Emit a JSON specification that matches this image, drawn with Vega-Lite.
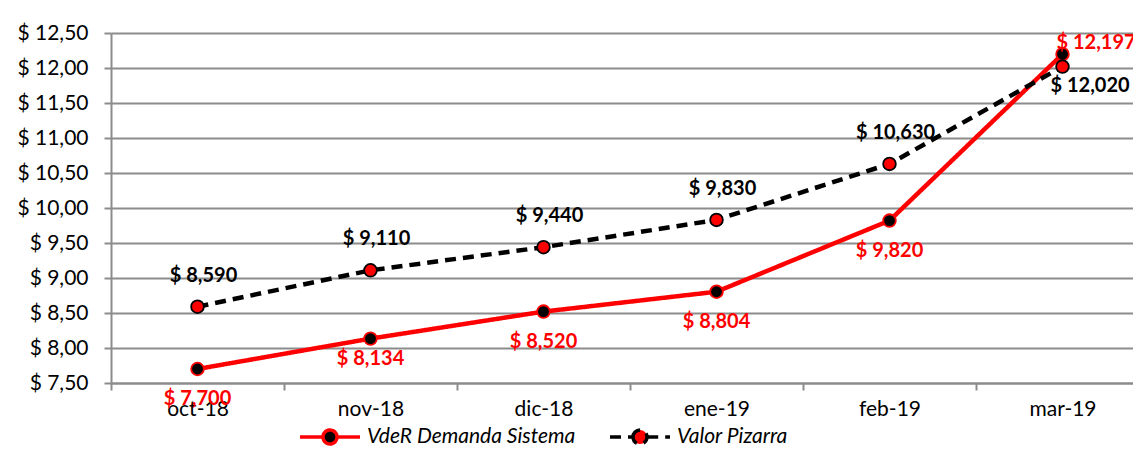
{
  "$schema": "https://vega.github.io/schema/vega-lite/v6.json",
  "width": 1022,
  "height": 350,
  "autosize": "none",
  "padding": {"left": 111, "top": 33, "right": 0, "bottom": 83},
  "background": "white",
  "config": {
    "locale": {"number": {"decimal": ",", "thousands": ".", "grouping": [3], "currency": ["$ ", ""]}},
    "font": "Lato",
    "view": {"stroke": null},
    "axis": {"labelFont": "Lato", "labelFontSize": 21, "labelColor": "black", "domainColor": "#8c8c8c", "domainWidth": 2, "tickColor": "#8c8c8c", "tickWidth": 2, "tickSize": 7, "title": null},
    "legend": {
      "orient": "none", "legendX": 187, "legendY": 372, "direction": "horizontal", "title": null,
      "labelFont": "Lato", "labelFontSize": 21, "labelFontStyle": "italic", "labelColor": "black", "labelLimit": 400,
      "symbolType": "M-1,0L-0.24,0M0.24,0L1,0M-0.233,0A0.233,0.233,0,1,1,0.233,0A0.233,0.233,0,1,1,-0.233,0Z",
      "symbolSize": 3600, "symbolStrokeWidth": 3.5, "columnPadding": 27, "labelOffset": 5
    }
  },
  "data": {"values": [
    {"mes": "oct-18", "serie": "VdeR Demanda Sistema", "valor": 7.700},
    {"mes": "nov-18", "serie": "VdeR Demanda Sistema", "valor": 8.134},
    {"mes": "dic-18", "serie": "VdeR Demanda Sistema", "valor": 8.520},
    {"mes": "ene-19", "serie": "VdeR Demanda Sistema", "valor": 8.804},
    {"mes": "feb-19", "serie": "VdeR Demanda Sistema", "valor": 9.820},
    {"mes": "mar-19", "serie": "VdeR Demanda Sistema", "valor": 12.197},
    {"mes": "oct-18", "serie": "Valor Pizarra", "valor": 8.590},
    {"mes": "nov-18", "serie": "Valor Pizarra", "valor": 9.110},
    {"mes": "dic-18", "serie": "Valor Pizarra", "valor": 9.440},
    {"mes": "ene-19", "serie": "Valor Pizarra", "valor": 9.830},
    {"mes": "feb-19", "serie": "Valor Pizarra", "valor": 10.630},
    {"mes": "mar-19", "serie": "Valor Pizarra", "valor": 12.020}
  ]},
  "encoding": {
    "x": {"field": "mes", "type": "ordinal", "sort": ["oct-18", "nov-18", "dic-18", "ene-19", "feb-19", "mar-19"],
      "scale": {"range": [0, 1038], "paddingInner": 0, "paddingOuter": 0},
      "axis": {"labelAngle": 0, "grid": false, "tickBand": "extent", "labelPadding": 8}},
    "y": {"field": "valor", "type": "quantitative", "scale": {"domain": [7.5, 12.5], "nice": false, "zero": false},
      "axis": {"values": [7.5, 8, 8.5, 9, 9.5, 10, 10.5, 11, 11.5, 12, 12.5], "format": "$.2f", "grid": true, "gridColor": "#8c8c8c", "gridWidth": 2, "labelPadding": 16}}
  },
  "layer": [
    {
      "mark": {"type": "line", "strokeWidth": 4.5},
      "encoding": {
        "color": {"field": "serie", "type": "nominal", "scale": {"domain": ["VdeR Demanda Sistema", "Valor Pizarra"], "range": ["#ff0000", "#000000"]}},
        "strokeDash": {"field": "serie", "type": "nominal", "scale": {"domain": ["VdeR Demanda Sistema", "Valor Pizarra"], "range": [[1, 0], [11, 7]]}},
        "order": {"field": "valor", "type": "quantitative"}
      }
    },
    {
      "mark": {"type": "point", "filled": true, "size": 160, "strokeWidth": 1.8, "opacity": 1},
      "encoding": {
        "fill": {"field": "serie", "type": "nominal", "scale": {"domain": ["VdeR Demanda Sistema", "Valor Pizarra"], "range": ["#000000", "#ff0000"]}},
        "stroke": {"field": "serie", "type": "nominal", "scale": {"domain": ["VdeR Demanda Sistema", "Valor Pizarra"], "range": ["#ff0000", "#000000"]}}
      }
    },
    {
      "transform": [{"filter": "datum.serie == 'VdeR Demanda Sistema' && datum.mes != 'mar-19' && datum.mes != 'nov-18'"}],
      "mark": {"type": "text", "dy": 30, "fontSize": 20, "fontWeight": "bold", "color": "#ff0000", "font": "Lato"},
      "encoding": {"text": {"field": "valor", "type": "quantitative", "format": "$.3f"}}
    },
    {
      "transform": [{"filter": "datum.serie == 'VdeR Demanda Sistema' && datum.mes == 'nov-18'"}],
      "mark": {"type": "text", "dy": 20, "fontSize": 20, "fontWeight": "bold", "color": "#ff0000", "font": "Lato"},
      "encoding": {"text": {"field": "valor", "type": "quantitative", "format": "$.3f"}}
    },
    {
      "transform": [{"filter": "datum.serie == 'VdeR Demanda Sistema' && datum.mes == 'mar-19'"}],
      "mark": {"type": "text", "dy": -11, "dx": -6, "align": "left", "fontSize": 20, "fontWeight": "bold", "color": "#ff0000", "font": "Lato"},
      "encoding": {"text": {"field": "valor", "type": "quantitative", "format": "$.3f"}}
    },
    {
      "transform": [{"filter": "datum.serie == 'Valor Pizarra' && datum.mes != 'mar-19'"}],
      "mark": {"type": "text", "dy": -31, "dx": 6, "fontSize": 20, "fontWeight": "bold", "color": "#000000", "font": "Lato"},
      "encoding": {"text": {"field": "valor", "type": "quantitative", "format": "$.3f"}}
    },
    {
      "transform": [{"filter": "datum.serie == 'Valor Pizarra' && datum.mes == 'mar-19'"}],
      "mark": {"type": "text", "dy": 19, "dx": -12, "align": "left", "fontSize": 20, "fontWeight": "bold", "color": "#000000", "font": "Lato"},
      "encoding": {"text": {"field": "valor", "type": "quantitative", "format": "$.3f"}}
    }
  ]
}
